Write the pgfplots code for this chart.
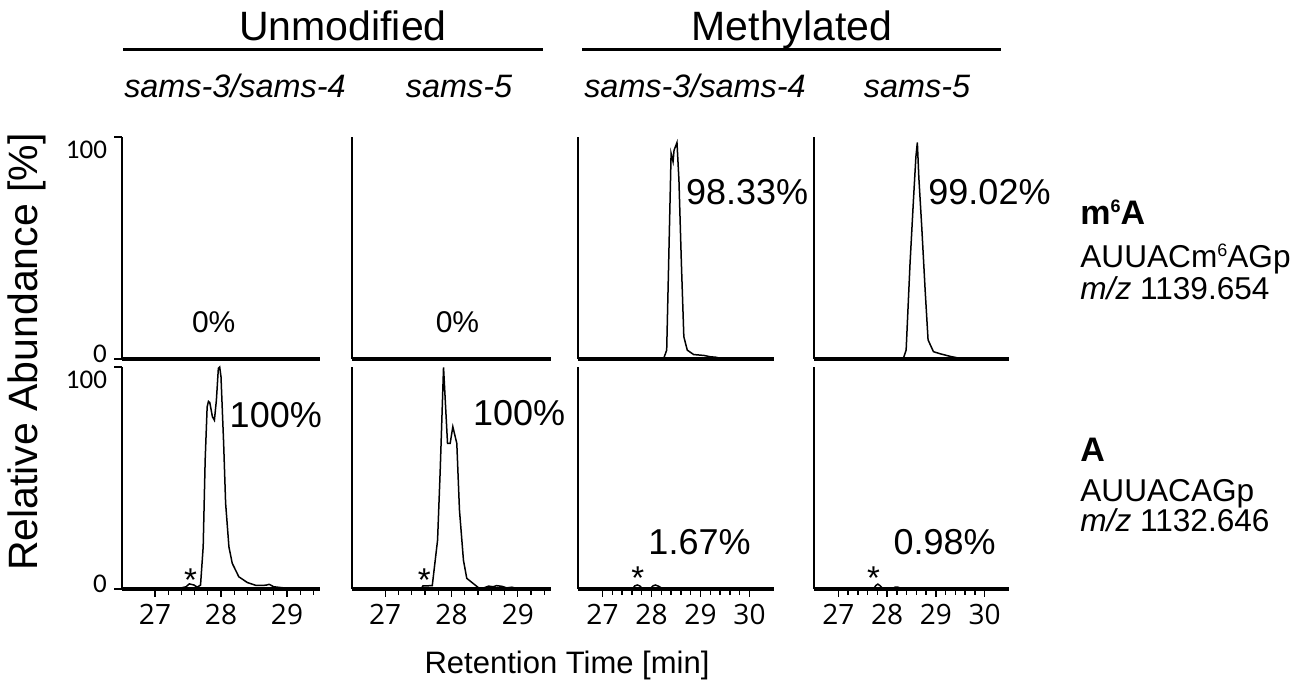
\documentclass[border=0pt]{standalone}
\usepackage{fontspec}
\setmainfont{Liberation Sans}
\newfontfamily\carlito{Carlito}
\newfontfamily\opensans{Open Sans}
\usepackage{pgfplots}
\pgfplotsset{compat=1.18}

\newcommand\supsix{\raisebox{0.36em}{\fontsize{9}{9}\selectfont 6}}

\tikzset{
  trace/.style={black, line width=0.75pt, no marks},
  pct/.style={font=\fontsize{18}{18}\selectfont, inner sep=0pt},
  pctz/.style={font=\fontsize{15}{15}\selectfont, inner sep=0pt},
  star/.style={font=\fontsize{16.5}{16.5}\selectfont, inner sep=0pt, anchor=north},
}
\pgfplotsset{
  chrom/.style={
    scale only axis, width=#1, height=111pt,
    anchor=south west,
    ymin=0, ymax=100, clip=false,
    axis x line*=bottom, axis y line*=left,
    x axis line style={-, line width=2pt},
    y axis line style={-, line width=1.15pt},
    xtick=\empty, ytick=\empty,
    tick align=outside,
    tick style={black, line width=0.65pt},
    major tick length=4pt, minor tick length=3pt,
    /pgf/number format/assume math mode=true,
    xticklabel style={font=\opensans\fontsize{14}{14}\selectfont},
    yticklabel style={font=\carlito\fontsize{13.5}{13.5}\selectfont},
  },
  rt/.style={xtick={27,28,29,30}, minor x tick num=4},
  ylab/.style={ytick={0,100},
    yticklabels={\raisebox{-1.9pt}[0pt][0pt]{0},\raisebox{-10.8pt}[0pt][0pt]{100}}},
}

\begin{document}
\begin{tikzpicture}[x=0.5pt,y=-0.5pt]
\path[use as bounding box] (0,0) rectangle (1297,688);

% headers
\node[anchor=base, font=\fontsize{20.5}{20.5}\selectfont] at (343,41) {Unmodified};
\node[anchor=base, font=\fontsize{20.5}{20.5}\selectfont] at (792,41) {Methylated};
\draw[line width=1.5pt] (123,50) -- (543,50);
\draw[line width=1.5pt] (582,50) -- (1001,50);
\begin{scope}[every node/.style={anchor=base, font=\itshape\fontsize{16.2}{16.2}\selectfont}]
\node at (235,98) {sams-3/sams-4};
\node at (459,98) {sams-5};
\node at (695,98) {sams-3/sams-4};
\node at (917,98) {sams-5};
\end{scope}

% m6A row
\begin{axis}[chrom=99pt, at={(61pt,-179.5pt)}, xmin=26.5, xmax=29.5, ylab]
\addplot[trace] coordinates {(26.5,0) (29.5,0)};
\node[pctz] at (axis cs:27.89,16.7) {0\%};
\end{axis}
\begin{axis}[chrom=99.5pt, at={(176pt,-179.5pt)}, xmin=26.5, xmax=29.5]
\addplot[trace] coordinates {(26.5,0) (29.5,0)};
\node[pctz] at (axis cs:28.09,16.7) {0\%};
\end{axis}
\begin{axis}[chrom=98pt, at={(289pt,-179.5pt)}, xmin=26.5, xmax=30.5]
\addplot[trace] coordinates {(26.5,0) (28.25,0.3) (28.31,4) (28.35,43) (28.40,92.6) (28.44,88.9) (28.46,94) (28.52,97.5) (28.56,80.6) (28.61,43) (28.66,10) (28.73,4) (28.86,2) (29.07,1.6) (29.20,1.0) (29.31,0.8) (29.41,0.3) (29.5,0)};
\node[pct] at (axis cs:29.95,75) {98.33\%};
\end{axis}
\begin{axis}[chrom=97.5pt, at={(407pt,-179.5pt)}, xmin=26.5, xmax=30.5]
\addplot[trace] coordinates {(26.5,0) (28.33,0) (28.39,4) (28.47,43) (28.54,71.6) (28.59,91) (28.62,97.5) (28.65,82) (28.71,59.6) (28.78,31) (28.84,8.6) (28.95,3.3) (29.08,2.4) (29.29,1.2) (29.49,0.3) (29.6,0)};
\node[pct] at (axis cs:30.10,75) {99.02\%};
\end{axis}

% A row
\begin{axis}[chrom=99pt, at={(61pt,-294.5pt)}, xmin=26.5, xmax=29.5, ylab, rt]
\addplot[trace] coordinates {(26.5,0) (27.10,0) (27.16,0.4) (27.22,0) (27.36,0.2) (27.47,1.0) (27.52,2.3) (27.59,1.8) (27.64,0.8) (27.69,1.8) (27.73,19) (27.76,58) (27.79,82) (27.81,84.5) (27.83,84) (27.87,77.6) (27.90,76) (27.93,85) (27.96,99.4) (27.98,100) (28.00,95.6) (28.04,65.6) (28.07,38.6) (28.12,19) (28.17,11.6) (28.27,5.5) (28.40,2.9) (28.53,1.6) (28.68,1.7) (28.73,2.1) (28.80,1.0) (28.98,0.4) (29.08,0.2) (29.23,0.5) (29.38,0.3) (29.42,0)};
\node[pct] at (axis cs:28.83,78.4) {100\%};
\node[star] at (axis cs:27.54,9.5) {*};
\end{axis}
\begin{axis}[chrom=99.5pt, at={(176pt,-294.5pt)}, xmin=26.5, xmax=29.5, rt]
\addplot[trace] coordinates {(26.5,0) (27.54,0) (27.57,1.4) (27.71,1.5) (27.79,22) (27.83,53.6) (27.88,99.8) (27.94,65.6) (27.98,65.6) (28.02,73.1) (28.08,65.6) (28.12,35.6) (28.18,13) (28.23,4.8) (28.41,0.5) (28.48,0.4) (28.56,1.3) (28.63,1.0) (28.68,1.5) (28.76,1.2) (28.83,0.5) (28.91,0.8) (28.98,0.3) (29.08,0.1) (29.15,0)};
\node[pct] at (axis cs:29.02,79.1) {100\%};
\node[star] at (axis cs:27.59,9.5) {*};
\end{axis}
\begin{axis}[chrom=98pt, at={(289pt,-294.5pt)}, xmin=26.5, xmax=30.5, rt]
\addplot[trace] coordinates {(26.5,0) (27.61,0) (27.66,1.4) (27.71,1.8) (27.76,1.4) (27.81,0.2) (27.98,0.2) (28.03,1.4) (28.08,1.8) (28.15,1.2) (28.22,0.2) (28.3,0)};
\node[pct] at (axis cs:28.98,20.9) {1.67\%};
\node[star] at (axis cs:27.72,10) {*};
\end{axis}
\begin{axis}[chrom=97.5pt, at={(407pt,-294.5pt)}, xmin=26.5, xmax=30.5, rt]
\addplot[trace] coordinates {(26.5,0) (27.72,0) (27.77,1.6) (27.81,2.2) (27.86,1.4) (27.92,0) (28.10,0) (28.16,0.8) (28.22,0.8) (28.33,0)};
\node[pct] at (axis cs:29.18,20.9) {0.98\%};
\node[star] at (axis cs:27.72,10) {*};
\end{axis}

% axis titles
\node[anchor=base, font=\fontsize{15.5}{15.5}\selectfont] at (567,674) {Retention Time [min]};
\node[rotate=90, font=\fontsize{20.5}{20.5}\selectfont] at (27,352) {Relative Abundance [\%]};

% row labels
\begin{scope}[every node/.style={anchor=base west, inner sep=0pt}]
\node[font=\bfseries\fontsize{17}{17}\selectfont] at (1080,225) {m\supsix A};
\node[font=\fontsize{15.8}{15.8}\selectfont] at (1080,268) {AUUACm\supsix AGp};
\node[font=\fontsize{15.8}{15.8}\selectfont] at (1080,300) {\textit{m/z} 1139.654};
\node[font=\bfseries\fontsize{17}{17}\selectfont] at (1080,462) {A};
\node[font=\fontsize{15.8}{15.8}\selectfont] at (1080,502) {AUUACAGp};
\node[font=\fontsize{15.8}{15.8}\selectfont] at (1080,532) {\textit{m/z} 1132.646};
\end{scope}
\end{tikzpicture}
\end{document}
